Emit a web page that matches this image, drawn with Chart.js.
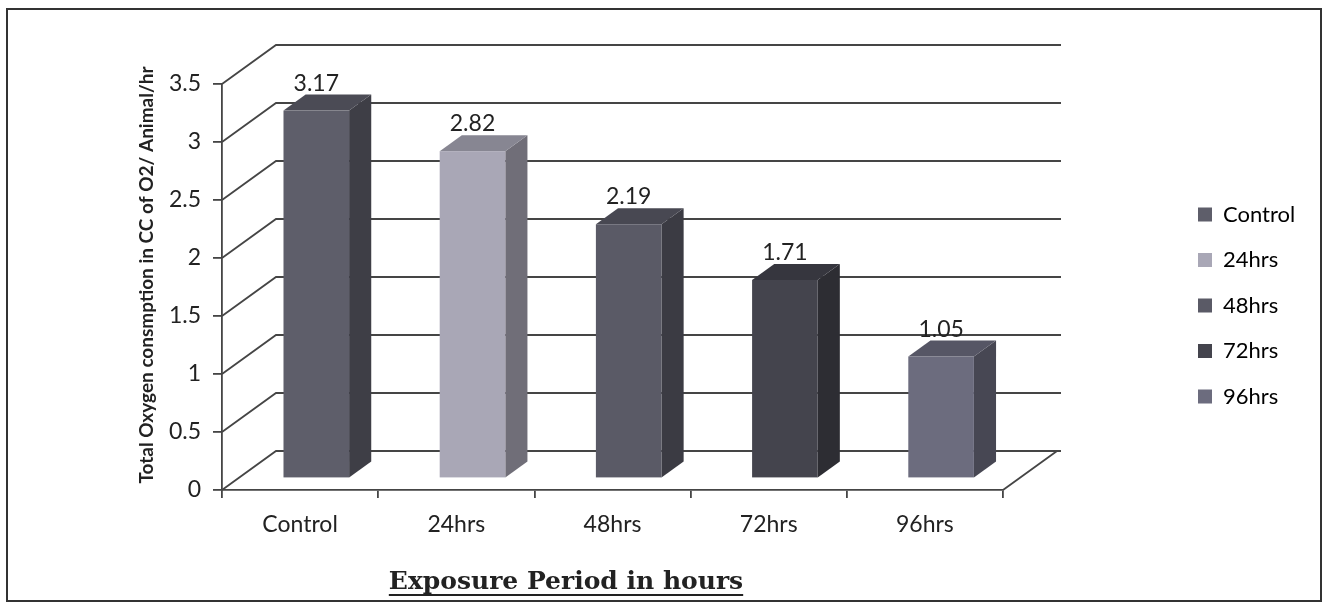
<!DOCTYPE html>
<html>
<head>
<meta charset="utf-8">
<script src="https://cdn.jsdelivr.net/npm/chart.js@4.4.1/dist/chart.umd.min.js"></script>
<style>
  html, body { margin: 0; padding: 0; background: #fff; overflow: hidden; }
  #wrap { width: 1325px; height: 605px; position: relative; }
  canvas { display: block; }
</style>
</head>
<body>
<div id="wrap"><canvas id="chart" width="1325" height="605"></canvas></div>
<script>
// Oxygen consumption per exposure period
const categories = ['Control', '24hrs', '48hrs', '72hrs', '96hrs'];
const consumption = [3.17, 2.82, 2.19, 1.71, 1.05];
const yTicks = [0, 0.5, 1, 1.5, 2, 2.5, 3, 3.5];
const barColors = ['#5e5e6a', '#a9a7b6', '#5a5a66', '#44444d', '#6c6c7e'];
const yTitle = 'Total Oxygen consmption in CC of O2/ Animal/hr';
const xTitle = 'Exposure Period in hours';

const FONT = 'Lato, "Open Sans", sans-serif';
const LINE = '#454545';
const DEPTH = { x: 54, y: -39 };      // floor depth vector, front plane to back wall
const BAR_FRONT = 0.30, BAR_BACK = 0.71; // bar position inside that depth

function shade(hex, k) {
  const n = parseInt(hex.slice(1), 16);
  const r = Math.round(((n >> 16) & 255) * k), g = Math.round(((n >> 8) & 255) * k), b = Math.round((n & 255) * k);
  return `rgb(${r},${g},${b})`;
}

const box3d = {
  id: 'box3d',
  beforeLayout(chart) {
    const lg = chart.legend;
    if (lg && !lg._wide) {
      const fit = lg.fit;
      lg.fit = function () { fit.call(this); this.width = 322; };
      lg._wide = true;
    }
  },
  afterLayout(chart) {
    const lg = chart.legend;
    const p = lg.options.labels.padding;
    lg.left = 1198 - p; lg.right = 1325; lg.top = 180; lg.bottom = 605;
  },
  beforeDraw(chart) {
    const ctx = chart.ctx;
    ctx.save();
    ctx.fillStyle = '#fff';
    ctx.fillRect(0, 0, chart.width, chart.height);
    ctx.strokeStyle = '#333';
    ctx.lineWidth = 2;
    ctx.strokeRect(7, 9, 1314, 592);
    ctx.restore();
  },
  beforeDatasetsDraw(chart) {
    const ctx = chart.ctx;
    const { left, right, bottom } = chart.chartArea;
    const ys = chart.scales.y;
    ctx.save();
    ctx.strokeStyle = LINE;
    ctx.lineWidth = 1.8;
    ctx.beginPath();
    yTicks.forEach(v => {
      const py = ys.getPixelForValue(v);
      ctx.moveTo(left, py);
      ctx.lineTo(left + DEPTH.x, py + DEPTH.y);
      ctx.lineTo(right + DEPTH.x + 4, py + DEPTH.y);
    });
    ctx.moveTo(right, bottom);
    ctx.lineTo(right + DEPTH.x, bottom + DEPTH.y);
    ctx.stroke();
    ctx.restore();
  },
  afterDatasetsDraw(chart) {
    const ctx = chart.ctx;
    const meta = chart.getDatasetMeta(0);
    const fx = DEPTH.x * BAR_FRONT, fy = DEPTH.y * BAR_FRONT;
    const bx = DEPTH.x * BAR_BACK, by = DEPTH.y * BAR_BACK;
    ctx.save();
    meta.data.forEach((el, i) => {
      const { x, y, base, width } = el.getProps(['x', 'y', 'base', 'width'], true);
      const l = x - width / 2, r = x + width / 2;
      const c = barColors[i];
      // right side face
      ctx.fillStyle = shade(c, 0.66);
      ctx.beginPath();
      ctx.moveTo(r + fx, y + fy); ctx.lineTo(r + bx, y + by);
      ctx.lineTo(r + bx, base + by); ctx.lineTo(r + fx, base + fy);
      ctx.closePath(); ctx.fill();
      // top face
      ctx.fillStyle = shade(c, 0.8);
      ctx.beginPath();
      ctx.moveTo(l + fx, y + fy); ctx.lineTo(l + bx, y + by);
      ctx.lineTo(r + bx, y + by); ctx.lineTo(r + fx, y + fy);
      ctx.closePath(); ctx.fill();
      // front face
      ctx.fillStyle = c;
      ctx.fillRect(l + fx, y + fy, width, base - y);
      // value label
      ctx.fillStyle = '#222';
      ctx.font = `23px ${FONT}`;
      ctx.textAlign = 'center';
      ctx.textBaseline = 'alphabetic';
      ctx.fillText(consumption[i].toFixed(2), x + fx, y + by - 4);
    });
    ctx.restore();
  },
  afterDraw(chart) {
    const ctx = chart.ctx;
    ctx.save();
    // value axis title
    ctx.translate(147, 275);
    ctx.rotate(-Math.PI / 2);
    ctx.fillStyle = '#222';
    ctx.font = `bold 19px ${FONT}`;
    ctx.textAlign = 'center';
    ctx.textBaseline = 'middle';
    ctx.fillText(yTitle, 0, 0);
    ctx.restore();
    // category axis title, underlined
    ctx.save();
    ctx.fillStyle = '#222';
    ctx.font = 'bold 25px "DejaVu Serif", serif';
    ctx.textAlign = 'center';
    ctx.textBaseline = 'alphabetic';
    ctx.fillText(xTitle, 566, 589);
    const w = ctx.measureText(xTitle).width;
    ctx.fillRect(566 - w / 2, 594, w, 2);
    ctx.restore();
  }
};

new Chart(document.getElementById('chart'), {
  type: 'bar',
  data: {
    labels: categories,
    datasets: [{
      label: 'Oxygen consumption',
      data: consumption,
      backgroundColor: 'rgba(0,0,0,0)',
      borderWidth: 0,
      barPercentage: 0.42,
      categoryPercentage: 1
    }]
  },
  options: {
    responsive: false,
    animation: false,
    devicePixelRatio: 1,
    layout: { padding: { top: 84, left: 0, right: 0, bottom: 0 } },
    plugins: {
      tooltip: { enabled: false },
      legend: {
        position: 'right',
        align: 'start',
        labels: {
          boxWidth: 14,
          boxHeight: 14,
          padding: 23.5,
          color: '#222',
          font: { family: FONT, size: 22 },
          generateLabels: () => categories.map((c, i) => ({
            text: c, fillStyle: barColors[i], strokeStyle: barColors[i], lineWidth: 0, hidden: false, index: i
          }))
        }
      }
    },
    scales: {
      y: {
        min: 0,
        max: 3.5,
        afterFit: s => { s.width = 222; },
        ticks: { stepSize: 0.5, padding: 12, color: '#222', font: { family: FONT, size: 23 }, callback: v => String(v) },
        grid: { drawOnChartArea: false, tickLength: 9, color: LINE, lineWidth: 1.8 },
        border: { color: LINE, width: 1.8 }
      },
      x: {
        afterFit: s => { s.height = 115; },
        ticks: { padding: 13, color: '#222', font: { family: FONT, size: 23 } },
        grid: { drawOnChartArea: false, offset: true, tickLength: 8, color: LINE, lineWidth: 1.8 },
        border: { color: LINE, width: 1.8 }
      }
    }
  },
  plugins: [box3d]
});
</script>
</body>
</html>
